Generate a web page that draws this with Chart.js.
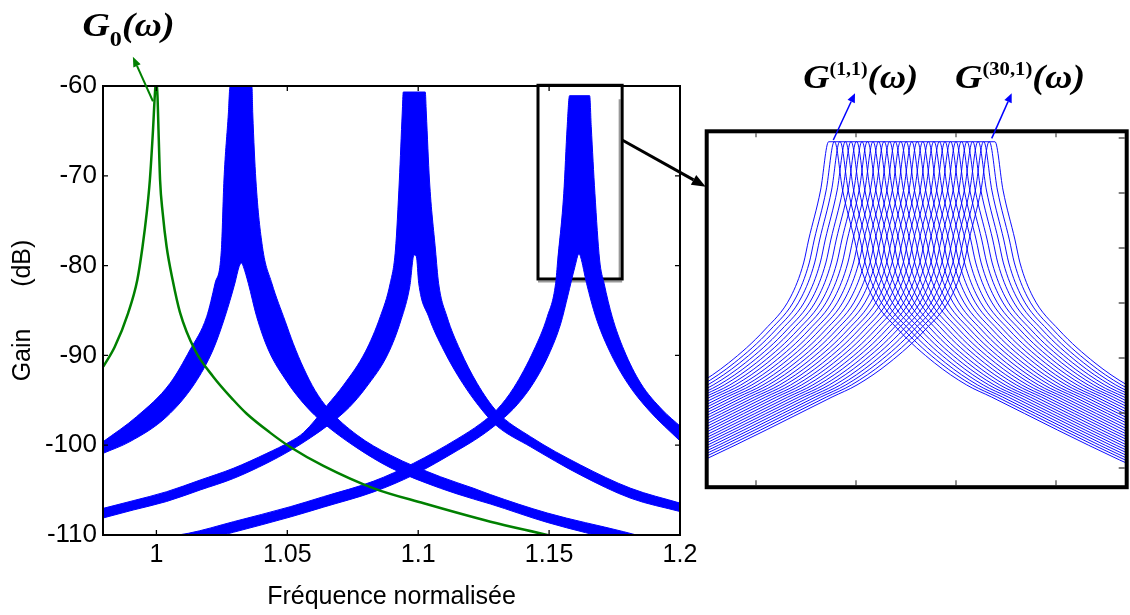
<!DOCTYPE html>
<html>
<head>
<meta charset="utf-8">
<script src="https://cdn.jsdelivr.net/npm/chart.js@4.4.1/dist/chart.umd.min.js"></script>
<style>
  html, body { margin: 0; padding: 0; background: #fff; }
  #wrap { position: relative; width: 1130px; height: 615px; overflow: hidden; }
  #mainChart { position: absolute; left: 0; top: 0; }
  #insetChart { position: absolute; left: 700px; top: 40px; }
</style>
</head>
<body>
<div id="wrap">
  <canvas id="mainChart" width="1130" height="615"></canvas>
  <canvas id="insetChart" width="430" height="460"></canvas>
</div>
<script>
// Gain vs normalised frequency, with a zoom on the third resonance

// Axis ticks (main plot)
const xTicks = [1, 1.05, 1.1, 1.15, 1.2];
const xTickLabels = ['1', '1.05', '1.1', '1.15', '1.2'];
const yTicks = [-60, -70, -80, -90, -100, -110];

// G0(w) : single resonance, [frequency, dB]
const g0Curve = [
  [0.9797, -91.26], [0.9841, -89.03], [0.9892, -85.28], [0.9927, -81.60], [0.9947, -77.90],
  [0.9963, -74.14], [0.9975, -70.47], [0.9987, -64.90], [0.9994, -61.0], [0.9999, -59.3],
  [1.0004, -61.0], [1.0008, -64.90], [1.0014, -70.47], [1.0024, -74.14], [1.0039, -77.90],
  [1.0062, -81.60], [1.0090, -85.2], [1.0147, -89.4], [1.0217, -92.37], [1.0294, -94.97],
  [1.0345, -96.5], [1.0434, -98.6], [1.0511, -100.2], [1.0638, -102.3], [1.0830, -104.8],
  [1.1021, -106.47], [1.1276, -108.52], [1.1493, -110.0], [1.1697, -111.45]
];

// Bands of 30 curves : upper and lower edges, [frequency, dB]
const band1Upper = [
  [0.9797, -99.6], [0.9924, -96.83], [1.0052, -93.11], [1.0128, -89.40], [1.0192, -85.69],
  [1.0224, -81.97], [1.0248, -78.3], [1.0258, -70.47], [1.0275, -63.0], [1.0281, -60.1],
  [1.0365, -60.1], [1.0368, -63.0], [1.0380, -70.47], [1.0405, -77.9], [1.0441, -81.97],
  [1.0492, -86.2], [1.0523, -88.7], [1.0562, -91.4], [1.0606, -93.9], [1.0657, -95.97],
  [1.0766, -98.86], [1.0893, -101.09], [1.1085, -103.51], [1.1212, -104.80], [1.1276, -105.5],
  [1.1493, -107.55], [1.1785, -109.63], [1.2003, -111.3]
];
const band1Lower = [
  [0.9797, -100.9], [0.9899, -99.6], [1.0039, -96.83], [1.0147, -93.1], [1.0216, -89.4],
  [1.0262, -85.69], [1.0300, -81.94], [1.0316, -80.1], [1.0325, -79.71], [1.0332, -80.1],
  [1.0351, -81.97], [1.0383, -85.69], [1.0428, -89.40], [1.0498, -92.9], [1.0549, -94.9],
  [1.0606, -96.7], [1.0657, -98.0], [1.0766, -100.3], [1.0893, -102.5], [1.1085, -104.8],
  [1.1212, -106.0], [1.1276, -106.55], [1.1493, -108.6], [1.1785, -110.8], [1.2003, -112.4]
];
const band2Upper = [
  [0.9797, -107.03], [0.9911, -106.18], [1.0039, -105.18], [1.0167, -103.88], [1.0294, -102.57],
  [1.0422, -100.9], [1.0511, -99.6], [1.0562, -98.6], [1.0651, -95.6], [1.0715, -93.3],
  [1.0798, -89.6], [1.0855, -85.69], [1.0893, -81.97], [1.0913, -78.26], [1.0928, -70.47],
  [1.0939, -63.01], [1.0943, -60.67], [1.1027, -60.67], [1.1031, -63.01], [1.1043, -70.47],
  [1.1066, -78.26], [1.1078, -81.97], [1.1110, -85.69], [1.1160, -89.40], [1.1225, -93.11],
  [1.1302, -96.3], [1.1429, -99.05], [1.1620, -102.20], [1.1812, -104.80], [1.2003, -106.47]
];
const band2Lower = [
  [0.9797, -108.1], [0.9911, -107.22], [1.0039, -106.27], [1.0167, -104.99], [1.0294, -103.71],
  [1.0422, -102.0], [1.0511, -100.6], [1.0587, -99.2], [1.0664, -97.6], [1.0736, -95.8],
  [1.0800, -93.6], [1.0885, -89.8], [1.0935, -86.0], [1.0968, -82.3], [1.0984, -78.82],
  [1.0993, -79.01], [1.1002, -81.97], [1.1040, -85.69], [1.1097, -89.40], [1.1170, -93.11],
  [1.1250, -96.3], [1.1302, -97.9], [1.1429, -100.17], [1.1620, -103.32], [1.1812, -105.91],
  [1.2003, -107.41]
];
const band3Upper = [
  [0.9797, -111.1], [1.0122, -109.81], [1.0294, -108.52], [1.0511, -106.85], [1.0638, -105.73],
  [1.0830, -104.0], [1.0983, -102.0], [1.1149, -99.3], [1.1238, -97.6], [1.1302, -96.0],
  [1.1365, -93.6], [1.1442, -89.40], [1.1493, -85.69], [1.1525, -81.97], [1.1533, -79.38],
  [1.1556, -71.95], [1.1569, -64.53], [1.1578, -61.08], [1.1655, -61.08], [1.1661, -64.53],
  [1.1675, -71.95], [1.1693, -79.38], [1.1710, -81.97], [1.1741, -85.69], [1.1786, -89.40],
  [1.1850, -93.11], [1.1933, -96.08], [1.2003, -97.94]
];
const band3Lower = [
  [0.9797, -112.3], [1.0122, -111.0], [1.0294, -109.7], [1.0511, -108.0], [1.0638, -106.9],
  [1.0830, -105.2], [1.0983, -103.3], [1.1149, -100.6], [1.1238, -99.0], [1.1314, -97.3],
  [1.1378, -95.5], [1.1442, -93.0], [1.1499, -89.9], [1.1544, -86.5], [1.1572, -83.3],
  [1.1598, -80.2], [1.1614, -78.71], [1.1620, -79.01], [1.1643, -81.97], [1.1678, -85.69],
  [1.1729, -89.40], [1.1800, -93.11], [1.1880, -96.08], [1.2003, -99.61]
];

// Zoomed box around the third resonance [f min, f max], [dB top, dB bottom]
const zoomBoxF = [1.14576, 1.1779];
const zoomBoxDb = [-59.92, -81.49];

// Inset : G(1,1) ... G(30,1) around 1.16
const insetXTicks = [1.155, 1.16, 1.165, 1.17];
const insetYTicks = [-60, -65, -70, -75, -80, -85, -90];
// shape of one curve, offset from its peak
const insetShapeDf = [-0.0160, -0.0144, -0.0113, -0.0080, -0.00675, -0.00515, -0.00335, -0.00205,
  -0.0014, -0.00115, -0.00055, -0.00015, 0.00015, 0.00055, 0.00115, 0.0014, 0.00205, 0.00335,
  0.00515, 0.00675, 0.0080, 0.0113, 0.0144, 0.0160];
const insetShapeDb = [-90.55, -89.27, -86.55, -83.55, -82.45, -80.45, -77.45, -74.45,
  -71.36, -69.27, -64.73, -60.34, -60.34, -64.73, -69.27, -71.36, -74.45, -77.45,
  -80.45, -82.45, -83.55, -86.55, -89.27, -90.55];
// peak of each of the 30 curves
const insetPeaks = [1.15878, 1.15906, 1.15933, 1.15961, 1.15989, 1.16016, 1.16044, 1.16071,
  1.16099, 1.16127, 1.16154, 1.16182, 1.16210, 1.16237, 1.16265, 1.16293, 1.16320, 1.16348,
  1.16376, 1.16403, 1.16431, 1.16459, 1.16486, 1.16514, 1.16541, 1.16569, 1.16597, 1.16624,
  1.16652, 1.16680];

const BLUE = '#0000ff';
const GREEN = '#008000';
const SANS = '"Liberation Sans", Arial, sans-serif';
const SERIF = '"Liberation Serif", "Times New Roman", serif';

Chart.defaults.font.family = SANS;
Chart.defaults.color = '#000';

const toXY = pts => pts.map(p => ({ x: p[0], y: p[1] }));

function bandSets(upper, lower) {
    return [
        { data: toXY(upper), borderColor: BLUE, borderWidth: 1, fill: false },
        { data: toXY(lower), borderColor: BLUE, borderWidth: 1, backgroundColor: BLUE, fill: '-1' }
    ];
}

// Helper: line with filled arrow head
function drawArrow(ctx, x0, y0, x1, y1, color, lw, head, half) {
    const a = Math.atan2(y1 - y0, x1 - x0);
    const bx = x1 - head * Math.cos(a), by = y1 - head * Math.sin(a);
    ctx.save();
    ctx.strokeStyle = color;
    ctx.fillStyle = color;
    ctx.lineWidth = lw;
    ctx.beginPath();
    ctx.moveTo(x0, y0);
    ctx.lineTo(bx, by);
    ctx.stroke();
    ctx.beginPath();
    ctx.moveTo(x1, y1);
    ctx.lineTo(bx + half * Math.sin(a), by - half * Math.cos(a));
    ctx.lineTo(bx - half * Math.sin(a), by + half * Math.cos(a));
    ctx.closePath();
    ctx.fill();
    ctx.restore();
}

// Helper: G label made of several pieces, stretched to a width
function drawGLabel(ctx, x, baseline, width, parts) {
    ctx.save();
    let total = 0;
    parts.forEach(p => { ctx.font = p.font; p.w = ctx.measureText(p.text).width; total += p.w; });
    ctx.translate(x, baseline);
    ctx.scale(width / total, 1);
    ctx.fillStyle = '#000';
    ctx.textBaseline = 'alphabetic';
    let cx = 0;
    parts.forEach(p => { ctx.font = p.font; ctx.fillText(p.text, cx, p.dy); cx += p.w; });
    ctx.restore();
}

const bigG = 'italic bold 33px ' + SERIF;

// Frame, inward ticks, zoom box, arrows and G0 label
const mainDecor = {
    id: 'mainDecor',
    beforeDatasetsDraw(chart) {
        const { ctx, scales: { x, y } } = chart;
        const l = x.getPixelForValue(zoomBoxF[0]), r = x.getPixelForValue(zoomBoxF[1]);
        const t = y.getPixelForValue(zoomBoxDb[0]), b = y.getPixelForValue(zoomBoxDb[1]);
        ctx.save();
        ctx.strokeStyle = '#9a9a9a';
        ctx.lineWidth = 2;
        ctx.beginPath();
        ctx.moveTo(l, b + 2.5); ctx.lineTo(r, b + 2.5);
        ctx.moveTo(r - 2.5, t + 14); ctx.lineTo(r - 2.5, b);
        ctx.stroke();
        ctx.strokeStyle = '#000';
        ctx.lineWidth = 3;
        ctx.strokeRect(l, t, r - l, b - t);
        ctx.restore();
    },
    afterDraw(chart) {
        const { ctx, chartArea: a, scales: { x, y } } = chart;
        ctx.save();
        ctx.strokeStyle = '#000';
        ctx.lineWidth = 1.3;
        ctx.beginPath();
        xTicks.forEach(v => {
            const px = x.getPixelForValue(v);
            ctx.moveTo(px, a.bottom); ctx.lineTo(px, a.bottom - 5);
            ctx.moveTo(px, a.top); ctx.lineTo(px, a.top + 5);
        });
        yTicks.forEach(v => {
            const py = y.getPixelForValue(v);
            ctx.moveTo(a.left, py); ctx.lineTo(a.left + 5, py);
            ctx.moveTo(a.right, py); ctx.lineTo(a.right - 5, py);
        });
        ctx.stroke();
        ctx.lineWidth = 2;
        ctx.strokeRect(a.left, a.top, a.right - a.left, a.bottom - a.top);
        ctx.restore();

        // G0 arrow and label
        drawArrow(ctx, x.getPixelForValue(0.99867), y.getPixelForValue(-61.7),
            x.getPixelForValue(0.99102), y.getPixelForValue(-56.74), GREEN, 2, 10, 4);
        drawGLabel(ctx, x.getPixelForValue(0.97178), y.getPixelForValue(-54.43), 92, [
            { text: 'G', font: bigG, dy: 0 },
            { text: '0', font: 'bold 21px ' + SERIF, dy: 10 },
            { text: '(ω)', font: bigG, dy: 0 }
        ]);

        // arrow from the zoom box to the inset
        drawArrow(ctx, x.getPixelForValue(zoomBoxF[1]), y.getPixelForValue(-66.01),
            x.getPixelForValue(1.20984), y.getPixelForValue(-71.21), '#000', 3, 14, 5.5);
    }
};

new Chart(document.getElementById('mainChart'), {
    type: 'line',
    data: {
        datasets: [
            { data: toXY(g0Curve), borderColor: GREEN, borderWidth: 2.5, fill: false },
            ...bandSets(band1Upper, band1Lower),
            ...bandSets(band2Upper, band2Lower),
            ...bandSets(band3Upper, band3Lower)
        ]
    },
    options: {
        responsive: false,
        animation: false,
        events: [],
        layout: { padding: { left: 0, top: 86, right: 450, bottom: 0 } },
        elements: {
            point: { radius: 0 },
            line: { cubicInterpolationMode: 'monotone' }
        },
        datasets: { line: { clip: 0 } },
        scales: {
            x: {
                type: 'linear',
                min: 0.9796,
                max: 1.2,
                afterBuildTicks: s => { s.ticks = xTicks.map(v => ({ value: v })); },
                afterFit: s => { s.height = 80; },
                grid: { display: false, drawTicks: false },
                border: { display: false },
                ticks: {
                    padding: 5, autoSkip: false, maxRotation: 0, color: '#000',
                    font: { size: 25 },
                    callback: (v, i) => xTickLabels[i]
                },
                title: {
                    display: true, text: 'Fréquence normalisée', color: '#000',
                    font: { size: 25 }, padding: { top: 0, bottom: 3 }
                }
            },
            y: {
                type: 'linear',
                min: -110,
                max: -60,
                afterBuildTicks: s => { s.ticks = yTicks.map(v => ({ value: v })); },
                afterFit: s => { s.width = 103; },
                grid: { display: false, drawTicks: false },
                border: { display: false },
                ticks: {
                    padding: 6, color: '#000', font: { size: 26 },
                    callback: v => String(v)
                },
                title: {
                    display: true, text: 'Gain      (dB)', color: '#000',
                    font: { size: 25 }, padding: { top: 8, bottom: 0 }
                }
            }
        },
        plugins: { legend: { display: false }, tooltip: { enabled: false } }
    },
    plugins: [mainDecor]
});

// Inset frame, ticks, labels and arrows
const insetDecor = {
    id: 'insetDecor',
    afterDraw(chart) {
        const { ctx, chartArea: a, scales: { x, y } } = chart;
        ctx.save();
        ctx.strokeStyle = '#555';
        ctx.lineWidth = 1.3;
        ctx.beginPath();
        insetXTicks.forEach(v => {
            const px = x.getPixelForValue(v);
            ctx.moveTo(px, a.top + 2); ctx.lineTo(px, a.top + 6);
            ctx.moveTo(px, a.bottom - 2); ctx.lineTo(px, a.bottom - 7);
        });
        insetYTicks.forEach(v => {
            const py = y.getPixelForValue(v);
            ctx.moveTo(a.right - 2, py); ctx.lineTo(a.right - 8, py);
        });
        ctx.stroke();
        ctx.strokeStyle = '#000';
        ctx.lineWidth = 4;
        ctx.strokeRect(a.left, a.top, a.right - a.left, a.bottom - a.top);
        ctx.restore();

        drawArrow(ctx, x.getPixelForValue(1.158865), y.getPixelForValue(-60.18),
            x.getPixelForValue(1.15995), y.getPixelForValue(-55.94), BLUE, 1.5, 9, 4);
        drawArrow(ctx, x.getPixelForValue(1.166785), y.getPixelForValue(-60.03),
            x.getPixelForValue(1.167785), y.getPixelForValue(-55.94), BLUE, 1.5, 9, 4);

        drawGLabel(ctx, x.getPixelForValue(1.15736), y.getPixelForValue(-55.45), 115, [
            { text: 'G', font: bigG, dy: 0 },
            { text: '(1,1)', font: 'bold 18px ' + SERIF, dy: -13 },
            { text: '(ω)', font: bigG, dy: 0 }
        ]);
        drawGLabel(ctx, x.getPixelForValue(1.16495), y.getPixelForValue(-55.45), 130, [
            { text: 'G', font: bigG, dy: 0 },
            { text: '(30,1)', font: 'bold 18px ' + SERIF, dy: -13 },
            { text: '(ω)', font: bigG, dy: 0 }
        ]);
    }
};

new Chart(document.getElementById('insetChart'), {
    type: 'line',
    data: {
        datasets: insetPeaks.map(p => ({
            data: insetShapeDf.map((d, i) => ({ x: p + d, y: insetShapeDb[i] })),
            borderColor: 'rgba(0,0,255,0.95)',
            borderWidth: 1,
            fill: false
        }))
    },
    options: {
        responsive: false,
        animation: false,
        events: [],
        layout: { padding: { left: 6.7, right: 3.3, top: 91.3, bottom: 12.8 } },
        elements: {
            point: { radius: 0 },
            line: { cubicInterpolationMode: 'monotone' }
        },
        scales: {
            x: { type: 'linear', display: false, min: 1.152535, max: 1.173535 },
            y: { type: 'linear', display: false, min: -91.745, max: -59.39 }
        },
        plugins: { legend: { display: false }, tooltip: { enabled: false } }
    },
    plugins: [insetDecor]
});
</script>
</body>
</html>
